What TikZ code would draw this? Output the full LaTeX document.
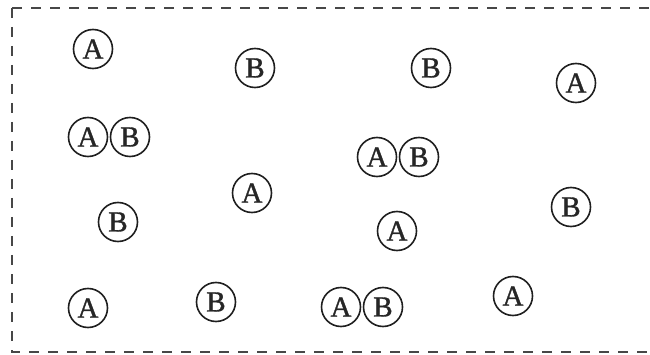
\documentclass[tikz,border=0pt]{standalone}
\usepackage{fontspec}
\setmainfont{Liberation Serif}
\newfontfamily\ballfont[FakeBold=1.2]{Liberation Serif}
\tikzset{
  ball/.style={circle, draw=black!88, line width=1.6pt, minimum size=39pt, inner sep=0pt,
    font=\ballfont\fontsize{29}{29}\selectfont, text=black!85},
  frame/.style={draw=black!72, line width=2pt, dash pattern=on 10pt off 9pt}
}
\begin{document}
\begin{tikzpicture}[x=1pt,y=-1pt]
\useasboundingbox (0,0) rectangle (650,355);
\draw[frame] (12,8) -- (660,8);
\draw[frame] (12,8) -- (12,352) -- (660,352);
\node[ball] (a1) at (93,49) {A};
\node[ball] (b1) at (255,68) {B};
\node[ball] (b2) at (431,68) {B};
\node[ball] (a2) at (576,83) {A};
\node[ball] (p1a) at (88,137) {A};
\node[ball] (p1b) at (130,137) {B};
\node[ball] (p2a) at (377,157) {A};
\node[ball] (p2b) at (419,157) {B};
\node[ball] (a3) at (252,193) {A};
\node[ball] (b3) at (118,222) {B};
\node[ball] (b4) at (571,207) {B};
\node[ball] (a4) at (397,231) {A};
\node[ball] (a5) at (88,308) {A};
\node[ball] (b5) at (216,302) {B};
\node[ball] (p3a) at (341,307) {A};
\node[ball] (p3b) at (383,307) {B};
\node[ball] (a6) at (513,296) {A};
\end{tikzpicture}
\end{document}
